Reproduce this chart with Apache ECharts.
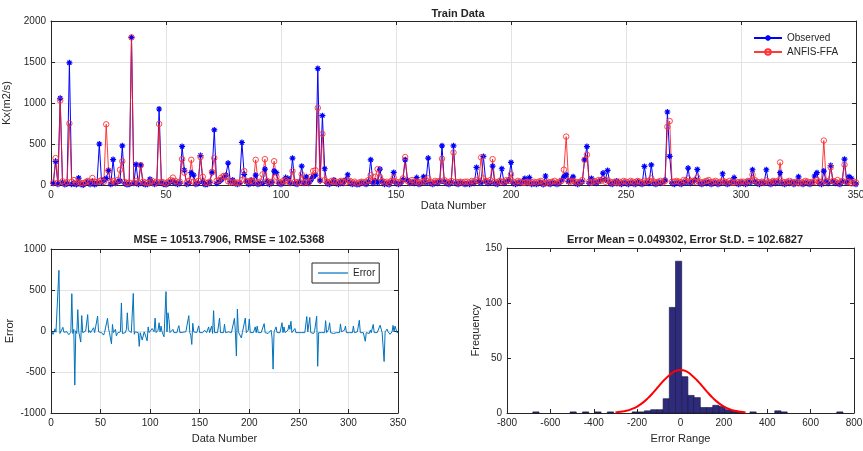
<!DOCTYPE html>
<html>
<head>
<meta charset="utf-8">
<script src="https://cdn.jsdelivr.net/npm/echarts@6/dist/echarts.min.js"></script>
<style>
  html, body { margin: 0; padding: 0; background: #fff; }
  #chart { width: 863px; height: 451px; }
</style>
</head>
<body>
<div id="chart"></div>
<script>
// observed Kx values, sample 1..350
var observed = [
  20,287,10,1057,30,5,15,1490,10,20,
  5,85,10,0,20,40,10,40,5,20,
  500,30,60,80,178,10,310,20,40,50,
  478,20,5,10,1800,20,250,10,245,20,
  5,10,70,30,10,20,927,30,10,5,
  20,40,40,30,10,20,470,180,10,20,
  150,120,10,20,360,40,5,10,30,150,
  672,20,40,60,90,120,267,40,60,20,
  10,20,518,130,40,10,60,20,120,10,
  20,20,194,40,10,30,170,150,20,10,
  30,90,80,20,327,20,10,40,230,20,
  100,20,60,100,120,1420,50,846,198,20,
  10,30,60,20,10,40,20,60,125,30,
  10,20,5,10,30,20,10,40,307,20,
  50,30,194,40,10,20,5,40,153,20,
  10,20,60,307,60,20,40,20,90,10,
  20,100,30,328,20,10,30,20,40,478,
  40,20,10,30,478,20,10,30,20,10,
  20,10,30,20,214,40,30,348,40,20,
  30,230,20,10,40,198,20,40,60,275,
  20,10,30,20,40,80,20,90,10,20,
  10,20,30,5,110,20,10,30,20,10,
  20,60,100,125,40,60,100,20,10,30,
  40,307,469,20,80,30,20,40,60,145,
  60,178,20,10,30,50,20,10,30,20,
  10,30,20,10,40,20,10,226,30,20,
  245,20,10,30,20,40,60,890,350,20,
  10,30,20,10,40,30,206,20,40,60,
  190,20,10,30,20,40,10,20,30,10,
  20,137,30,10,20,40,90,20,10,30,
  20,10,40,30,186,40,20,10,30,20,
  186,20,10,40,20,30,150,20,10,30,
  20,40,10,30,100,20,10,30,20,10,
  30,110,150,20,10,170,40,20,238,40,
  20,20,10,40,315,30,100,80,20,10
];
// ANFIS-FFA predictions
var predicted = [
  30,328,25,1030,45,20,35,750,40,60,
  30,40,25,20,35,50,30,85,40,35,
  45,60,40,740,175,40,50,30,60,185,
  290,40,25,30,1800,30,50,30,240,40,
  30,25,30,50,20,40,745,40,30,20,
  40,60,90,50,30,40,315,150,30,50,
  307,40,30,50,340,100,30,25,40,160,
  330,50,60,90,110,100,45,30,40,30,
  30,25,60,170,50,40,50,40,307,30,
  40,130,315,50,30,40,290,100,40,30,
  50,60,40,30,170,40,30,30,130,30,
  40,30,100,170,180,940,60,623,60,40,
  30,50,40,40,30,50,40,30,60,50,
  30,40,20,30,40,30,40,60,120,40,
  100,194,100,50,30,40,25,50,90,40,
  30,40,80,340,50,30,60,40,40,30,
  40,40,60,80,40,30,50,40,50,320,
  60,40,30,50,396,40,30,40,30,40,
  40,30,50,40,60,50,336,80,50,40,
  60,315,40,30,50,40,40,60,50,130,
  40,30,50,40,30,30,40,30,30,40,
  30,40,50,25,20,40,30,40,50,30,
  40,50,186,590,50,40,50,40,30,40,
  60,307,368,40,30,50,40,60,50,70,
  40,60,40,30,40,20,40,30,50,40,
  30,50,40,30,50,40,30,50,40,50,
  80,40,30,40,50,30,50,710,780,40,
  40,50,40,30,60,50,80,40,50,40,
  90,40,30,40,50,60,30,40,50,30,
  40,50,40,30,50,30,30,40,30,40,
  40,30,50,50,125,60,40,30,40,30,
  55,40,30,50,40,50,275,40,30,40,
  50,30,30,40,20,40,30,50,40,30,
  40,40,60,40,30,542,50,40,215,50,
  40,60,30,50,247,40,40,20,40,30
];

// histogram
var binStart = -680.8;
var binWidth = 28.6;
var binCounts = [
  1,0,0,0,0,0,1,0,1,0,
  1,0,1,0,0,0,1,1,2,3,
  3,13,96,138,33,16,14,5,5,7,
  6,3,2,1,0,1,0,0,0,2,
  1,0,0,0,0,0,0,0,0,1
];
// fitted normal curve
var fitX = [-300,-275,-250,-225,-200,-175,-150,-125,-100,-75,-50,-25,0,25,50,75,100,125,150,175,200,225,250,275,300];
var fitY = [0.55,1.1,2.0,3.6,5.9,9.2,13.5,18.7,24.4,30.0,34.6,38.1,39.2,38.1,34.6,30.0,24.4,18.7,13.5,9.2,5.9,3.6,2.0,1.1,0.55];

var obsData = observed.map(function (v, i) { return [i + 1, v]; });
var predData = predicted.map(function (v, i) { return [i + 1, v]; });
var errData = observed.map(function (v, i) { return [i + 1, v - predicted[i]]; });
var histData = [];
binCounts.forEach(function (c, k) {
  if (c > 0) histData.push([binStart + k * binWidth, binStart + (k + 1) * binWidth, c]);
});
var fitData = fitX.map(function (x, i) { return [x, fitY[i]]; });

var ink = '#262626';
var font = 'Liberation Sans, Arial, Helvetica, sans-serif';
var starPath = 'path://M5 0L5 10M0 5L10 5M1.6 1.6L8.4 8.4M1.6 8.4L8.4 1.6';

function axis(type, grid, min, max, step, opts) {
  var a = {
    type: 'value', gridIndex: grid, min: min, max: max, interval: step,
    position: type,
    axisLine: { show: true, onZero: false, lineStyle: { color: ink, width: 1 } },
    axisTick: { show: true, inside: true, length: 4, lineStyle: { color: ink } },
    axisLabel: { show: true, color: ink, fontSize: 10, fontFamily: font, margin: 5,
      formatter: function (v) { return String(v); } },
    splitLine: { show: false, lineStyle: { color: '#e3e3e3', width: 1 } },
    nameTextStyle: { color: ink, fontSize: 11, fontFamily: font },
    nameLocation: 'middle'
  };
  for (var k in opts) a[k] = opts[k];
  return a;
}
var noLabel = { show: false };
var grid = [
  { left: 51, top: 21, width: 805, height: 164, outerBoundsMode: 'none', containLabel: false },
  { left: 51, top: 249, width: 347, height: 164, outerBoundsMode: 'none', containLabel: false },
  { left: 507, top: 248, width: 347, height: 165, outerBoundsMode: 'none', containLabel: false }
];

var option = {
  animation: false,
  backgroundColor: '#fff',
  textStyle: { fontFamily: font },
  title: [
    { text: 'Train Data', left: 453, top: 3, textAlign: 'center',
      textStyle: { fontSize: 11, fontWeight: 'bold', color: ink, fontFamily: font } },
    { text: 'MSE = 10513.7906, RMSE = 102.5368', left: 224, top: 229, textAlign: 'center',
      textStyle: { fontSize: 11, fontWeight: 'bold', color: ink, fontFamily: font } },
    { text: 'Error Mean = 0.049302, Error St.D. = 102.6827', left: 680, top: 229, textAlign: 'center',
      textStyle: { fontSize: 11, fontWeight: 'bold', color: ink, fontFamily: font } }
  ],
  legend: [
    { data: [{ name: 'Observed' }, { name: 'ANFIS-FFA' }], orient: 'vertical', left: 748, top: 28,
      itemWidth: 28, itemHeight: 7, itemGap: 4,
      textStyle: { fontSize: 10, color: ink, fontFamily: font } },
    { data: [{ name: 'Error', icon: 'rect' }], left: 312, top: 263, padding: [5, 4, 5, 6],
      itemWidth: 30, itemHeight: 1.2, borderColor: ink, borderWidth: 1,
      textStyle: { fontSize: 10, color: ink, fontFamily: font } }
  ],
  grid: grid,
  xAxis: [
    axis('bottom', 0, 0, 350, 50, { name: 'Data Number', nameGap: 6,
      splitLine: { show: true, lineStyle: { color: '#e3e3e3' } } }),
    axis('top', 0, 0, 350, 50, { axisLabel: noLabel }),
    axis('bottom', 1, 0, 350, 50, { name: 'Data Number', nameGap: 20,
      splitLine: { show: true, lineStyle: { color: '#e3e3e3' } } }),
    axis('top', 1, 0, 350, 50, { axisLabel: noLabel }),
    axis('bottom', 2, -800, 800, 200, { name: 'Error Range', nameGap: 20 }),
    axis('top', 2, -800, 800, 200, { axisLabel: noLabel })
  ],
  yAxis: [
    axis('left', 0, 0, 2000, 500, { name: 'Kx(m2/s)', nameGap: 30,
      splitLine: { show: true, lineStyle: { color: '#e3e3e3' } } }),
    axis('right', 0, 0, 2000, 500, { axisLabel: noLabel }),
    axis('left', 1, -1000, 1000, 500, { name: 'Error', nameGap: 36,
      splitLine: { show: true, lineStyle: { color: '#e3e3e3' } } }),
    axis('right', 1, -1000, 1000, 500, { axisLabel: noLabel }),
    axis('left', 2, 0, 150, 50, { name: 'Frequency', nameGap: 26 }),
    axis('right', 2, 0, 150, 50, { axisLabel: noLabel })
  ],
  series: [
    { name: 'Observed', type: 'line', xAxisIndex: 0, yAxisIndex: 0, data: obsData,
      symbol: starPath, symbolSize: 6, showSymbol: true,
      lineStyle: { color: '#0000ff', width: 1 },
      itemStyle: { color: '#0000ff', borderColor: '#0000ff', borderWidth: 1.2 } },
    { name: 'ANFIS-FFA', type: 'line', xAxisIndex: 0, yAxisIndex: 0, data: predData,
      symbol: 'circle', symbolSize: 5.5, showSymbol: true,
      lineStyle: { color: '#ff1a1a', width: 1, opacity: 0.85 },
      itemStyle: { color: 'rgba(255,255,255,0)', borderColor: '#ff3333', borderWidth: 0.9 } },
    { name: 'Error', type: 'line', xAxisIndex: 2, yAxisIndex: 2, data: errData,
      symbol: 'none', lineStyle: { color: '#0072bd', width: 1 }, itemStyle: { color: '#0072bd' } },
    { name: 'Histogram', type: 'custom', xAxisIndex: 4, yAxisIndex: 4, data: histData,
      renderItem: function (params, api) {
        var p0 = api.coord([api.value(0), api.value(2)]);
        var p1 = api.coord([api.value(1), 0]);
        return {
          type: 'rect',
          shape: { x: p0[0], y: p0[1], width: p1[0] - p0[0], height: p1[1] - p0[1] },
          style: { fill: '#2e2b7c', stroke: '#15143a', lineWidth: 0.6 }
        };
      } },
    { name: 'Fit', type: 'line', xAxisIndex: 4, yAxisIndex: 4, data: fitData,
      symbol: 'none', smooth: true, lineStyle: { color: '#ff0000', width: 2 }, z: 5 }
  ]
};

var chart = echarts.init(document.getElementById('chart'));
chart.setOption(option);
</script>
</body>
</html>
